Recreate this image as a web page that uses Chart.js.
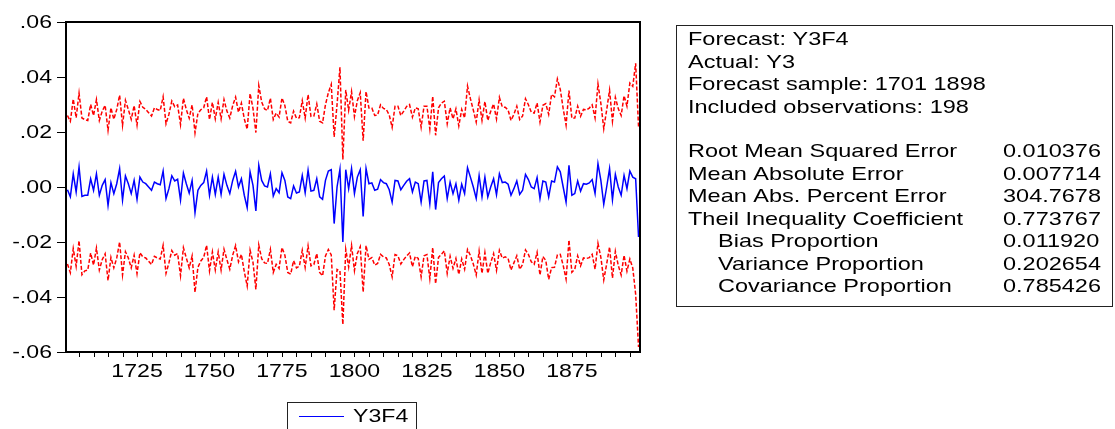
<!DOCTYPE html>
<html>
<head>
<meta charset="utf-8">
<script src="https://cdn.jsdelivr.net/npm/chart.js@4.4.1/dist/chart.umd.min.js"></script>
<style>
  html, body { margin: 0; padding: 0; background: #fff; }
  canvas { display: block; }
</style>
</head>
<body>
<canvas id="forecastChart" width="1115" height="429"></canvas>
<script>
// ========== DATA ==========
const firstYear = 1701;

// Forecast Y3F4, one value per year 1701..1898
const forecastY3F4 = [
    -0.0010, -0.0036, 0.0048, -0.0018, 0.0073, -0.0034, -0.0030, -0.0030, 0.0030, -0.0012,
    0.0048, -0.0030, 0.0006, 0.0027, -0.0067, 0.0016, -0.0024, 0.0012, 0.0067, -0.0048,
    0.0040, 0.0012, -0.0024, 0.0024, -0.0045, 0.0036, 0.0018, 0.0012, 0.0000, -0.0012,
    0.0018, 0.0012, 0.0008, 0.0058, -0.0042, -0.0006, 0.0041, 0.0022, 0.0028, -0.0048,
    0.0051, 0.0012, -0.0022, 0.0024, -0.0093, -0.0012, 0.0006, 0.0016, 0.0058, -0.0030,
    0.0036, -0.0027, 0.0036, -0.0027, 0.0046, 0.0006, -0.0024, 0.0024, 0.0057, 0.0000,
    0.0030, -0.0030, -0.0075, 0.0055, 0.0006, -0.0087, 0.0079, 0.0024, 0.0004, 0.0000,
    0.0048, -0.0033, -0.0006, -0.0021, 0.0052, 0.0024, -0.0036, -0.0042, 0.0004, -0.0022,
    -0.0018, 0.0042, -0.0021, 0.0061, -0.0015, -0.0012, 0.0030, -0.0036, -0.0045, 0.0024,
    0.0058, 0.0063, -0.0133, 0.0000, 0.0065, -0.0200, 0.0063, -0.0006, 0.0067, -0.0024,
    0.0036, 0.0063, -0.0107, 0.0067, 0.0012, 0.0015, -0.0012, -0.0008, 0.0027, 0.0016,
    0.0012, -0.0010, -0.0055, 0.0024, 0.0022, -0.0010, 0.0006, 0.0021, 0.0030, -0.0018,
    0.0018, 0.0012, -0.0055, 0.0022, 0.0024, -0.0061, 0.0055, -0.0082, 0.0016, 0.0030,
    0.0040, -0.0042, 0.0018, -0.0024, 0.0012, -0.0048, 0.0010, -0.0024, 0.0070, 0.0036,
    0.0000, -0.0042, 0.0042, -0.0036, 0.0036, -0.0036, 0.0000, 0.0030, -0.0028, 0.0048,
    0.0016, 0.0018, 0.0010, -0.0030, -0.0006, 0.0022, -0.0027, -0.0012, 0.0046, 0.0027,
    0.0000, -0.0006, 0.0034, -0.0042, 0.0022, 0.0018, -0.0036, 0.0022, 0.0018, 0.0073,
    0.0055, 0.0000, -0.0055, 0.0079, -0.0030, -0.0024, 0.0022, -0.0015, 0.0012, 0.0010,
    0.0015, 0.0027, -0.0024, 0.0085, 0.0024, -0.0063, 0.0000, 0.0067, -0.0046, 0.0046,
    0.0000, -0.0030, 0.0042, -0.0006, 0.0058, 0.0036, 0.0030, -0.0182
];

// Two forecast standard errors for each year (band half-width)
const twoSE = [
    0.0270, 0.0275, 0.0272, 0.0270, 0.0268, 0.0285, 0.0275, 0.0272, 0.0270, 0.0272,
    0.0270, 0.0272, 0.0270, 0.0270, 0.0273, 0.0272, 0.0270, 0.0270, 0.0267, 0.0272,
    0.0275, 0.0270, 0.0270, 0.0272, 0.0270, 0.0275, 0.0272, 0.0270, 0.0270, 0.0270,
    0.0270, 0.0270, 0.0270, 0.0270, 0.0272, 0.0270, 0.0272, 0.0270, 0.0270, 0.0275,
    0.0272, 0.0270, 0.0272, 0.0275, 0.0290, 0.0280, 0.0275, 0.0272, 0.0270, 0.0275,
    0.0272, 0.0275, 0.0272, 0.0275, 0.0272, 0.0270, 0.0275, 0.0272, 0.0270, 0.0272,
    0.0275, 0.0278, 0.0285, 0.0285, 0.0280, 0.0285, 0.0290, 0.0285, 0.0280, 0.0278,
    0.0275, 0.0278, 0.0275, 0.0275, 0.0272, 0.0272, 0.0275, 0.0275, 0.0272, 0.0272,
    0.0270, 0.0272, 0.0272, 0.0275, 0.0272, 0.0270, 0.0272, 0.0275, 0.0278, 0.0275,
    0.0285, 0.0310, 0.0315, 0.0300, 0.0370, 0.0300, 0.0290, 0.0285, 0.0280, 0.0280,
    0.0278, 0.0280, 0.0275, 0.0280, 0.0275, 0.0272, 0.0272, 0.0270, 0.0272, 0.0270,
    0.0270, 0.0272, 0.0272, 0.0270, 0.0272, 0.0270, 0.0270, 0.0272, 0.0270, 0.0272,
    0.0270, 0.0272, 0.0272, 0.0272, 0.0270, 0.0272, 0.0275, 0.0270, 0.0272, 0.0275,
    0.0272, 0.0272, 0.0270, 0.0272, 0.0272, 0.0270, 0.0272, 0.0275, 0.0297, 0.0285,
    0.0280, 0.0278, 0.0275, 0.0278, 0.0275, 0.0278, 0.0275, 0.0272, 0.0275, 0.0278,
    0.0275, 0.0272, 0.0270, 0.0272, 0.0270, 0.0272, 0.0272, 0.0270, 0.0275, 0.0272,
    0.0272, 0.0275, 0.0272, 0.0278, 0.0275, 0.0285, 0.0300, 0.0315, 0.0310, 0.0320,
    0.0300, 0.0285, 0.0280, 0.0272, 0.0280, 0.0275, 0.0272, 0.0272, 0.0270, 0.0270,
    0.0272, 0.0272, 0.0275, 0.0290, 0.0280, 0.0275, 0.0280, 0.0285, 0.0285, 0.0280,
    0.0285, 0.0290, 0.0290, 0.0300, 0.0320, 0.0330, 0.0420, 0.0400
];

// Axis ticks
const yTickValues = [0.06, 0.04, 0.02, 0.00, -0.02, -0.04, -0.06];
const yTickLabels = ['.06', '.04', '.02', '.00', '-.02', '-.04', '-.06'];
const xLabelYears = [1725, 1750, 1775, 1800, 1825, 1850, 1875];
const xMinorStep = 5;

// Forecast evaluation table
const statsHeader = [
    'Forecast: Y3F4',
    'Actual: Y3',
    'Forecast sample: 1701 1898',
    'Included observations: 198'
];
const statsNames = [
    'Root Mean Squared Error',
    'Mean Absolute Error',
    'Mean Abs. Percent Error',
    'Theil Inequality Coefficient',
    '   Bias Proportion',
    '   Variance Proportion',
    '   Covariance Proportion'
];
const statsValues = ['0.010376', '0.007714', '304.7678', '0.773767', '0.011920', '0.202654', '0.785426'];

const legendLabel = 'Y3F4';

// ========== SERIES ==========
const forecastPoints = forecastY3F4.map((v, i) => ({ x: firstYear + i, y: v }));
const upperPoints = forecastY3F4.map((v, i) => ({ x: firstYear + i, y: v + twoSE[i] }));
const lowerPoints = forecastY3F4.map((v, i) => ({ x: firstYear + i, y: v - twoSE[i] }));

// ========== DRAWING HELPERS ==========
const FONT = '18.5px "Liberation Sans", Arial, sans-serif';

// EViews output text is horizontally stretched, so draw it scaled on x
function stretchedText(ctx, text, x, y, align, sx) {
    ctx.save();
    ctx.translate(x, y);
    ctx.scale(sx, 1);
    ctx.textAlign = align;
    ctx.textBaseline = 'middle';
    ctx.fillText(text, 0, 0);
    ctx.restore();
}

const eviewsFrame = {
    id: 'eviewsFrame',
    afterDraw(chart) {
        const ctx = chart.ctx;
        const area = chart.chartArea;
        const xs = chart.scales.x;
        const ys = chart.scales.y;

        ctx.save();
        ctx.fillStyle = '#000';
        ctx.strokeStyle = '#000';
        ctx.font = FONT;

        // plot frame
        ctx.lineWidth = 2;
        ctx.strokeRect(area.left, area.top, area.right - area.left, area.bottom - area.top);

        // y axis ticks + labels
        ctx.lineWidth = 1;
        yTickValues.forEach((v, i) => {
            const py = Math.round(ys.getPixelForValue(v)) + 0.5;
            ctx.beginPath();
            ctx.moveTo(area.left - 9, py);
            ctx.lineTo(area.left, py);
            ctx.stroke();
            stretchedText(ctx, yTickLabels[i], area.left - 14, py, 'right', 1.25);
        });

        // x axis minor ticks every 5 years
        for (let yr = 1705; yr <= 1895; yr += xMinorStep) {
            const px = Math.round(xs.getPixelForValue(yr)) + 0.5;
            ctx.beginPath();
            ctx.moveTo(px, area.bottom);
            ctx.lineTo(px, area.bottom + 5);
            ctx.stroke();
        }
        xLabelYears.forEach(yr => {
            stretchedText(ctx, String(yr), xs.getPixelForValue(yr), area.bottom + 20, 'center', 1.25);
        });

        // legend box
        ctx.strokeStyle = '#222';
        ctx.lineWidth = 1;
        ctx.strokeRect(287.5, 402.5, 129, 40);
        ctx.strokeStyle = '#0000ff';
        ctx.beginPath();
        ctx.moveTo(299, 416.5);
        ctx.lineTo(344, 416.5);
        ctx.stroke();
        stretchedText(ctx, legendLabel, 353, 416.5, 'left', 1.25);

        // statistics box
        ctx.strokeStyle = '#222';
        ctx.strokeRect(676.5, 25.5, 436, 281);
        statsHeader.forEach((t, i) => {
            stretchedText(ctx, t, 688, 40 + i * 22.5, 'left', 1.27);
        });
        statsNames.forEach((t, i) => {
            const y = 152 + i * 22.5;
            const indent = t.startsWith(' ');
            stretchedText(ctx, t.trim(), indent ? 718 : 688, y, 'left', 1.27);
            stretchedText(ctx, statsValues[i], 1003, y, 'left', 1.27);
        });

        ctx.restore();
    }
};

// ========== CHART ==========
const bandStyle = {
    borderColor: '#ff0000',
    borderWidth: 1.5,
    borderDash: [4, 2],
    pointRadius: 0,
    fill: false,
    tension: 0
};

new Chart(document.getElementById('forecastChart').getContext('2d'), {
    type: 'line',
    data: {
        datasets: [
            { label: 'Upper', data: upperPoints, ...bandStyle },
            { label: 'Lower', data: lowerPoints, ...bandStyle },
            {
                label: legendLabel,
                data: forecastPoints,
                borderColor: '#0000ff',
                borderWidth: 1.5,
                pointRadius: 0,
                fill: false,
                tension: 0
            }
        ]
    },
    options: {
        responsive: false,
        animation: false,
        devicePixelRatio: 1,
        layout: { padding: { left: 66, top: 22, right: 475, bottom: 77 } },
        scales: {
            x: { type: 'linear', min: 1700.5, max: 1898.5, display: false },
            y: { min: -0.06, max: 0.06, display: false }
        },
        plugins: {
            legend: { display: false },
            tooltip: { enabled: false }
        }
    },
    plugins: [eviewsFrame]
});
</script>
</body>
</html>
